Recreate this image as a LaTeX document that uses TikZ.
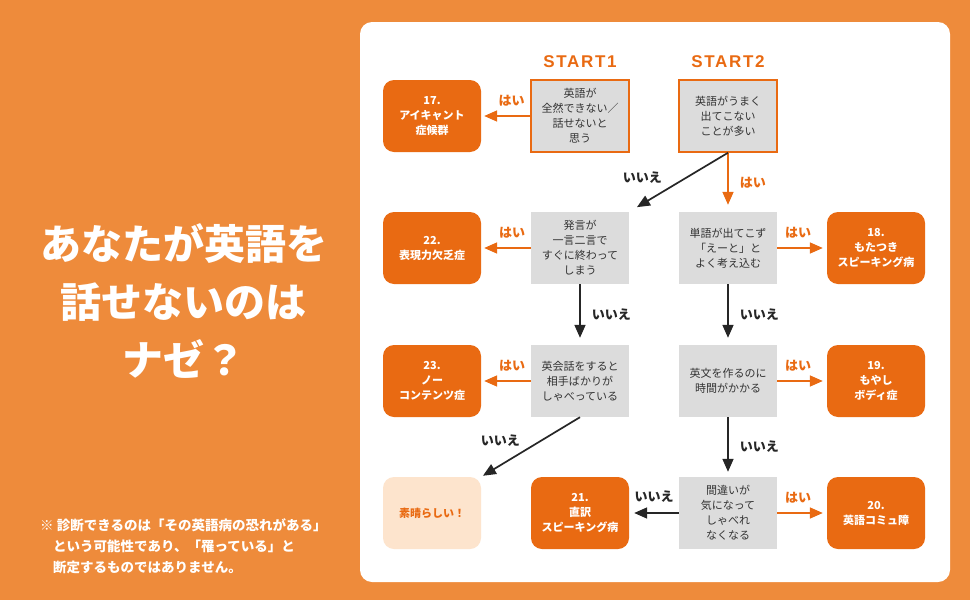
\documentclass[tikz,border=0pt]{standalone}
\usepackage{fontspec}
\usetikzlibrary{arrows.meta, positioning}
\newfontfamily\jp{Noto Sans CJK JP}
\newfontfamily\startfont[LetterSpace=10]{Liberation Sans}
\definecolor{bgorange}{HTML}{EE8B3B}
\definecolor{boxorange}{HTML}{E96A12}
\definecolor{qgray}{HTML}{DCDCDC}
\definecolor{goodpeach}{HTML}{FDE4CD}
\definecolor{inkgray}{HTML}{333333}

\begin{document}
\begin{tikzpicture}[
    x=1pt, y=-1pt,
    qbox/.style={fill=qgray, minimum width=98pt, minimum height=72pt, inner sep=0pt, align=center, text=inkgray, font=\jp\fontsize{11}{15}\selectfont},
    startq/.style={qbox, draw=boxorange, line width=1.5pt},
    resbox/.style={rounded corners=11pt, fill=boxorange, minimum width=98pt, minimum height=72pt, inner sep=0pt, align=center, text=white, font=\jp\bfseries\fontsize{11}{15}\selectfont},
    goodbox/.style={resbox, fill=goodpeach, text=boxorange},
    starttitle/.style={font=\startfont\bfseries\fontsize{17}{17}\selectfont, text=boxorange, inner sep=0pt},
    yesarrow/.style={-{Triangle[length=13pt, width=11pt]}, line width=1.7pt, boxorange},
    noarrow/.style={-{Triangle[length=13pt, width=11pt]}, line width=1.7pt, black!85},
    yeslabel/.style={font=\jp\bfseries\fontsize{13}{13}\selectfont, text=boxorange, inner sep=0pt},
    nolabel/.style={font=\jp\bfseries\fontsize{13}{13}\selectfont, text=black!85, inner sep=0pt},
]
\useasboundingbox (0,0) rectangle (970,600);

% Background and panel
\fill[bgorange] (0,0) rectangle (970,600);
\fill[white, rounded corners=12pt] (360,22) rectangle (950,582);

% Title and note
\node[font=\jp\bfseries\fontsize{41}{58}\selectfont, text=white, align=center] (title) at (184,301) {あなたが英語を\\話せないのは\\ナゼ？};
\node[font=\jp\bfseries\fontsize{13.5}{21}\selectfont, text=white, align=left, anchor=west, inner sep=0pt] (note) at (40,546) {※ 診断できるのは「その英語病の恐れがある」\\\hspace*{13pt}という可能性であり、「罹っている」と\\\hspace*{13pt}断定するものではありません。};

% Questions
\node[startq] (q1) at (580,116) {英語が\\全然できない／\\話せないと\\思う};
\node[startq] (q2) at (728,116) {英語がうまく\\出てこない\\ことが多い};
\node[qbox] (q3) at (728,248) {単語が出てこず\\「えーと」と\\よく考え込む};
\node[qbox] (q4) at (580,248) {発言が\\一言二言で\\すぐに終わって\\しまう};
\node[qbox] (q5) at (580,381) {英会話をすると\\相手ばかりが\\しゃべっている};
\node[qbox] (q6) at (728,381) {英文を作るのに\\時間がかかる};
\node[qbox] (q7) at (728,513) {間違いが\\気になって\\しゃべれ\\なくなる};

\node[starttitle, above=11pt of q1] (start1) {START1};
\node[starttitle, above=11pt of q2] (start2) {START2};

% Results
\node[resbox] (r17) at (432,116) {17.\\アイキャント\\症候群};
\node[resbox] (r22) at (432,248) {22.\\表現力欠乏症};
\node[resbox] (r23) at (432,381) {23.\\ノー\\コンテンツ症};
\node[resbox] (r18) at (876,248) {18.\\もたつき\\スピーキング病};
\node[resbox] (r19) at (876,381) {19.\\もやし\\ボディ症};
\node[resbox] (r20) at (876,513) {20.\\英語コミュ障};
\node[resbox] (r21) at (580,513) {21.\\直訳\\スピーキング病};
\node[goodbox] (good) at (432,513) {素晴らしい！};

% Yes arrows
\draw[yesarrow, shorten >=3pt] (q1) -- node[yeslabel, above=9pt, xshift=6pt] (y17) {はい} (r17);
\draw[yesarrow, shorten >=3pt] (q4) -- node[yeslabel, above=9pt, xshift=6pt] (y22) {はい} (r22);
\draw[yesarrow, shorten >=3pt] (q5) -- node[yeslabel, above=9pt, xshift=6pt] (y23) {はい} (r23);
\draw[yesarrow, shorten >=4pt] (q3) -- node[yeslabel, above=9pt, xshift=-4pt] (y18) {はい} (r18);
\draw[yesarrow, shorten >=4pt] (q6) -- node[yeslabel, above=9pt, xshift=-4pt] (y19) {はい} (r19);
\draw[yesarrow, shorten >=4pt] (q7) -- node[yeslabel, above=9pt, xshift=-4pt] (y20) {はい} (r20);
\draw[yesarrow, shorten >=7pt] (q2) -- node[yeslabel, right=11pt] (y2) {はい} (q3);

% No arrows
\draw[noarrow, shorten >=9pt] (q2.south) -- node[nolabel, left=16pt, yshift=5pt] (n2) {いいえ} (q4.north east);
\draw[noarrow, shorten >=7pt] (q4) -- node[nolabel, right=11pt] (n4) {いいえ} (q5);
\draw[noarrow, shorten >=7pt] (q3) -- node[nolabel, right=11pt] (n3) {いいえ} (q6);
\draw[noarrow, shorten >=5pt] (q6) -- node[nolabel, right=11pt] (n6) {いいえ} (q7);
\draw[noarrow, shorten >=2pt] (q5.south) -- node[nolabel, left=10pt, yshift=6pt] (n5) {いいえ} (good.north east);
\draw[noarrow, shorten >=5pt] (q7) -- node[nolabel, above=10pt] (n7) {いいえ} (r21);

\end{tikzpicture}
\end{document}
